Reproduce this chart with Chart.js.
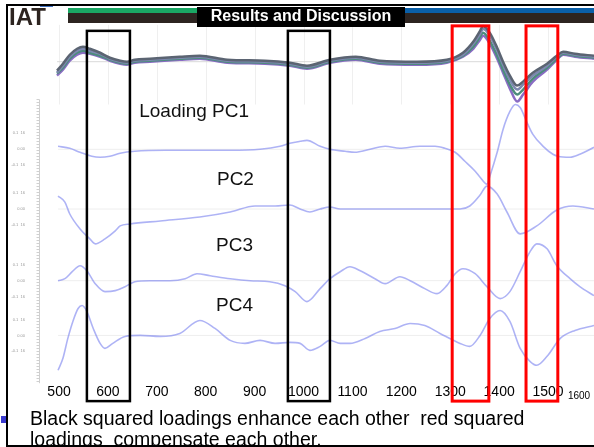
<!DOCTYPE html>
<html>
<head>
<meta charset="utf-8">
<script src="https://cdn.jsdelivr.net/npm/chart.js@4.4.0/dist/chart.umd.min.js"></script>
<style>
	body { margin: 0; background: #fff; }
	canvas { display: block; }
</style>
</head>
<body>
<canvas id="loadings" width="594" height="447"></canvas>
<script>
const FONT = 'Arial, "Liberation Sans", Helvetica, sans-serif';

// averaged spectra on top (wavenumber, a few of the overlapping traces)
const specWn = [496,508,522,537,549,563,584,604,625,639,655,686,747,788,844,921,972,1007,1054,1107,1156,1232,1293,1326,1347,1361,1367,1381,1396,1408,1422,1437,1449,1469,1498,1518,1531,1555,1594];
const specA = [-9,-2,7,13,15,13,9,4,1,0,2,3,5,6,2,1,-1,-4,2,5,1,0,2,9,20,31,36,29,14,0,-14,-24,-20,-11,-2,6,10,8,6];
const specB = [-11,-4,5,11,13,11,8,3,0,-1,1,2,4,5,1,0,-2,-5,1,4,0,-1,1,7,18,28,33,26,11,-3,-18,-28,-23,-14,-4,5,9,7,5];
const specC = [-12,-6,3,9,11,9,6,2,-1,-2,0,1,3,4,0,-1,-3,-6,0,3,-1,-2,0,6,15,25,29,21,6,-8,-23,-33,-28,-17,-6,3,8,6,4];
const specD = [-14,-8,1,7,9,8,5,1,-2,-3,-1,0,2,3,-1,-2,-4,-7,-1,2,-2,-3,-1,5,13,22,26,18,3,-11,-27,-40,-33,-20,-8,2,7,5,3];

// loadings
const pc1Wn = [498,522,543,567,584,604,625,655,717,788,850,911,952,972,993,1007,1034,1054,1085,1105,1136,1167,1197,1238,1269,1289,1310,1330,1351,1361,1375,1381,1396,1408,1422,1433,1443,1457,1469,1490,1510,1520,1545,1565,1594];
const pc1 = [3,1,-3,-7,-8,-7,-4,-2,-1,-1,-1,0,3,6,8,9,3,0,-2,-3,0,3,1,3,3,1,-3,-12,-22,-28,-35,-27,-3,20,38,45,42,27,15,3,-5,-7,-8,-5,2];
const pc2Wn = [498,512,522,543,563,574,594,615,625,645,707,788,850,901,942,972,993,1013,1034,1054,1075,1156,1238,1320,1340,1361,1375,1396,1416,1443,1477,1518,1551,1594];
const pc2 = [13,7,-5,-20,-30,-35,-30,-22,-17,-15,-12,-8,-3,3,3,4,0,-3,0,2,0,0,0,0,3,14,23,15,-3,-25,-17,-1,3,0];
const pc3Wn = [498,512,527,543,557,574,594,615,635,655,686,727,758,782,809,850,891,931,962,983,1007,1034,1054,1075,1095,1116,1146,1167,1197,1218,1248,1273,1293,1310,1326,1351,1375,1402,1422,1443,1463,1477,1498,1518,1545,1565,1594];
const pc3 = [0,2,9,15,10,-3,-11,-10,-6,-1,0,0,2,7,5,2,0,-1,-5,-11,-21,-8,2,9,14,10,2,-3,4,0,-8,-13,-5,7,12,7,-6,-18,-11,9,29,37,32,15,2,-6,-15];
const pc4Wn = [498,508,518,529,539,547,557,570,584,594,610,635,666,707,747,788,819,850,880,911,942,972,993,1013,1034,1054,1075,1095,1126,1156,1187,1218,1248,1279,1320,1340,1361,1381,1402,1422,1443,1463,1477,1498,1525,1555,1594];
const pc4 = [-35,-23,-3,15,27,30,24,7,-8,-13,-8,-1,0,-1,2,15,7,-5,-8,-5,-8,-7,-8,-15,-11,-5,-8,-8,-3,4,7,12,10,2,-8,-11,0,17,25,14,-13,-26,-30,-21,-3,5,10];

const tickValues = [500,600,700,800,900,1000,1100,1200,1300,1400,1500,1600];
const tickLabels = ['500','600','700','800','900','1000','1100','1200','1300','1400','1500','1600'];
const pcNames = ['Loading PC1','PC2','PC3','PC4'];
const blackBoxes = [[557,645],[968,1054]];
const redBoxes = [[1304,1379],[1455,1520]];
const title = 'Results and Discussion';
const bullet = ['Black squared loadings enhance each other  red squared', 'loadings  compensate each other.'];

// vertical stacking of the traces
const offSpec = 322, offPc = [234,174,102,47];

function pts(wn, vals, off) {
	return wn.map((x, i) => ({ x: x, y: vals[i] + off }));
}

var specColors = ['#5b6472','#7d88b0','#4c8c7c','#8a6cc4'];
var datasets = [];
[pc1Wn, pc2Wn, pc3Wn, pc4Wn].forEach((wn, i) => {
	datasets.push({
		data: pts(wn, [pc1, pc2, pc3, pc4][i], offPc[i]),
		borderColor: 'rgba(120,128,238,0.6)',
		borderWidth: 1.6,
		cubicInterpolationMode: 'monotone'
	});
});
[specA, specB, specC, specD].forEach((s, i) => {
	datasets.push({
		data: pts(specWn, s, offSpec),
		borderColor: specColors[i],
		borderWidth: 2.5,
		cubicInterpolationMode: 'monotone'
	});
});

const slide = {
	id: 'slide',
	beforeDatasetsDraw(chart) {
		const ctx = chart.ctx, x = chart.scales.x, y = chart.scales.y;
		ctx.save();
		// faint grid behind the spectra
		ctx.strokeStyle = '#efefef';
		ctx.lineWidth = 1;
		tickValues.forEach(v => {
			var px = Math.round(x.getPixelForValue(v)) + 0.5;
			ctx.beginPath();
			ctx.moveTo(px, y.getPixelForValue(offSpec + 37));
			ctx.lineTo(px, y.getPixelForValue(offSpec - 43));
			ctx.stroke();
		});
		ctx.strokeStyle = '#d9d9d9';
		ctx.beginPath();
		ctx.moveTo(x.getPixelForValue(specWn[0]), y.getPixelForValue(offSpec));
		ctx.lineTo(chart.chartArea.right, y.getPixelForValue(offSpec));
		ctx.stroke();
		ctx.strokeStyle = '#eeeeee';
		offPc.forEach(o => {
			ctx.beginPath();
			ctx.moveTo(x.getPixelForValue(pc1Wn[0]), y.getPixelForValue(o));
			ctx.lineTo(chart.chartArea.right, y.getPixelForValue(o));
			ctx.stroke();
		});
		// ruler of the loading plot
		var rx = 39.5, top = y.getPixelForValue(284), bot = y.getPixelForValue(-1);
		ctx.strokeStyle = '#cfcfcf';
		ctx.beginPath();
		ctx.moveTo(rx, top); ctx.lineTo(rx, bot);
		for (var py = top; py < bot; py += 3) { ctx.moveTo(rx - 3, py); ctx.lineTo(rx, py); }
		ctx.stroke();
		ctx.fillStyle = '#9a9a9a';
		ctx.font = '4px ' + FONT;
		ctx.textBaseline = 'middle';
		ctx.textAlign = 'right';
		offPc.forEach(o => {
			ctx.fillText('0.00', 25, y.getPixelForValue(o));
			ctx.fillText('0.1  16', 25, y.getPixelForValue(o + 16));
			ctx.fillText('-0.1  16', 25, y.getPixelForValue(o - 16));
		});
		ctx.restore();
	},
	afterDraw(chart) {
		const ctx = chart.ctx, x = chart.scales.x, y = chart.scales.y;
		ctx.save();
		// curve names
		ctx.fillStyle = '#111';
		ctx.font = '19px ' + FONT;
		ctx.textBaseline = 'middle';
		ctx.textAlign = 'left';
		var nameX = [664, 823, 821, 821], nameY = [272, 203, 137, 77];
		pcNames.forEach((n, i) => ctx.fillText(n, x.getPixelForValue(nameX[i]), y.getPixelForValue(nameY[i])));
		// the squares
		function box(b, top, col, w) {
			var l = x.getPixelForValue(b[0]), r = x.getPixelForValue(b[1]);
			var t = y.getPixelForValue(top), btm = y.getPixelForValue(-19);
			ctx.strokeStyle = col;
			ctx.lineWidth = w;
			ctx.strokeRect(l, t, r - l, btm - t);
		}
		blackBoxes.forEach(b => box(b, 353, '#000', 2.5));
		redBoxes.forEach(b => box(b, 358, '#ff0000', 3));
		// last tick label squeezed at the edge
		ctx.fillStyle = '#000';
		ctx.font = '10px ' + FONT;
		ctx.textAlign = 'center';
		var last = tickValues.length - 1;
		ctx.fillText(tickLabels[last], Math.min(x.getPixelForValue(tickValues[last]), chart.chartArea.right - 15), 396);
		// header bar
		ctx.fillStyle = '#2d2420';
		ctx.fillRect(68, 13, 129, 10);
		ctx.fillRect(405, 13, 189, 10);
		ctx.fillStyle = '#1aa764';
		ctx.fillRect(68, 8, 129, 5);
		ctx.fillStyle = '#0a5fa8';
		ctx.fillRect(405, 8, 189, 5);
		ctx.fillStyle = '#000';
		ctx.fillRect(197, 7, 208, 20);
		ctx.fillStyle = '#fff';
		ctx.font = 'bold 16px ' + FONT;
		ctx.textAlign = 'center';
		ctx.fillText(title, 301, 17);
		// logo
		ctx.save();
		ctx.beginPath();
		ctx.rect(8, 7, 50, 18);
		ctx.clip();
		ctx.fillStyle = '#2d2420';
		ctx.font = 'bold 24px ' + FONT;
		ctx.textAlign = 'left';
		ctx.textBaseline = 'alphabetic';
		ctx.fillText('IAT', 9, 25);
		ctx.restore();
		ctx.fillStyle = '#3f6fc0';
		ctx.fillRect(40, 5, 13, 2);
		// frame
		ctx.fillStyle = '#000';
		ctx.fillRect(6, 4, 588, 2);
		ctx.fillRect(6, 4, 2, 443);
		ctx.fillRect(6, 445, 588, 2);
		// bullet text
		ctx.fillStyle = '#3b3bd0';
		ctx.fillRect(1, 416, 5, 7);
		ctx.fillStyle = '#000';
		ctx.font = '19.5px ' + FONT;
		ctx.textAlign = 'left';
		ctx.textBaseline = 'middle';
		ctx.fillText(bullet[0], 30, 420);
		ctx.fillText(bullet[1], 30, 441);
		ctx.restore();
	}
};

new Chart(document.getElementById('loadings'), {
	type: 'line',
	data: { datasets: datasets },
	options: {
		responsive: false,
		animation: false,
		devicePixelRatio: 1,
		layout: { padding: { left: 0, right: 0, top: 0, bottom: 44 } },
		plugins: { legend: { display: false }, tooltip: { enabled: false } },
		elements: { point: { radius: 0 } },
		scales: {
			x: {
				type: 'linear',
				min: 379.3,
				max: 1594,
				afterBuildTicks: s => { s.ticks = tickValues.filter(v => v <= s.max).map(v => ({ value: v })); },
				ticks: {
					autoSkip: false,
					maxRotation: 0,
					padding: 2,
					color: '#000',
					font: { family: FONT, size: 14 },
					callback: v => tickLabels[tickValues.indexOf(v)]
				},
				grid: { display: false, drawTicks: false },
				border: { display: false }
			},
			y: { min: 0, max: 384, display: false }
		}
	},
	plugins: [slide]
});
</script>
</body>
</html>
